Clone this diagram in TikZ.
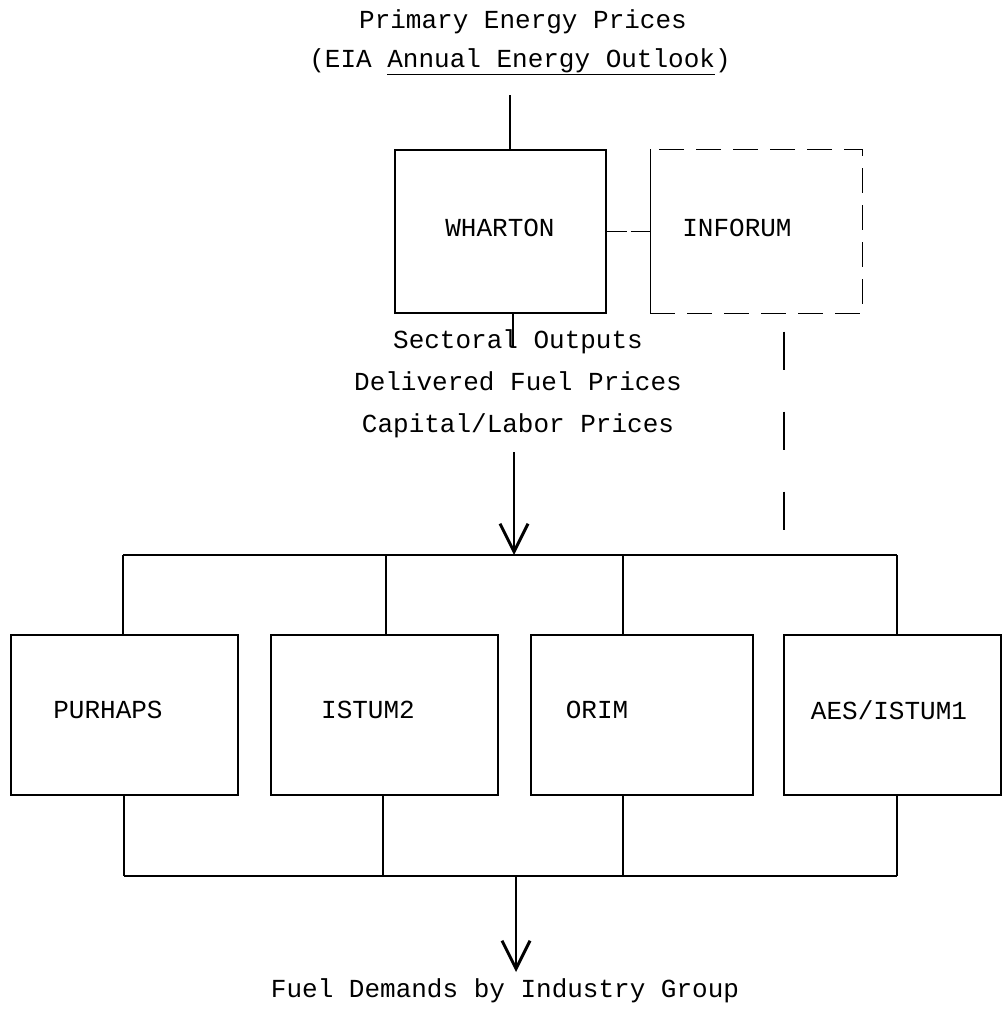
\documentclass[tikz,border=0pt]{standalone}
\usepackage{fontspec}
\newfontfamily\typer{Liberation Mono}
\usetikzlibrary{positioning,arrows.meta}

\begin{document}
\begin{tikzpicture}[x=1pt, y=-1pt, line width=1.2pt,
  font=\typer\fontsize{26}{42}\selectfont,
  txt/.style={inner sep=0pt, align=center},
  bigbox/.style={draw, minimum width=211pt, minimum height=163pt, inner sep=0pt},
  modbox/.style={draw, minimum width=227pt, minimum height=160pt, inner sep=0pt},
  infdash/.style={dash pattern=on 25pt off 12pt},
  vtip/.style={-{Straight Barb[length=28pt,width=28pt,line width=3pt]}}]
\useasboundingbox (0,0) rectangle (1002,1009);

% inputs on top
\node[txt] (prices) at (523,22) {Primary Energy Prices};
\node[txt] (eia) at (520,62) {(EIA \underline{Annual Energy Outlook})};

% macro models
\node[bigbox] (wharton) at (500.5,231.5) {};
\node[txt] at (500,228) {WHARTON};
\node[bigbox, draw=none] (inforum) at (756.5,231.5) {};
\draw[infdash] (inforum.south west) -- (inforum.south east) -- (inforum.north east) -- (inforum.north west);
\draw (inforum.north west) -- (inforum.south west);
\node[txt] at (737,228) {INFORUM};
\draw[dash pattern=on 20pt off 4pt] (wharton.east) -- (inforum.west);

\coordinate (topin) at (510,95);
\draw (topin) -- (topin |- wharton.north);

% outputs passed down
\node[txt] (outs) at (518,384) {Sectoral Outputs\\Delivered Fuel Prices\\Capital/Labor Prices};
\coordinate (outtop) at (513,347);
\draw (wharton.south -| outtop) -- (outtop);
\coordinate (busin) at (514,555);
\coordinate (arrin) at (514,452);
\draw[vtip] (arrin) -- (busin);

\coordinate (infend) at (784,530);
\draw[dash pattern=on 38pt off 42pt, dash phase=62pt] (inforum.south -| infend) -- (infend);

% industry models
\node[modbox] (purhaps) at (124.5,715) {};
\node[modbox] (istum) at (384.5,715) {};
\node[modbox, minimum width=222pt] (orim) at (642,715) {};
\node[modbox, minimum width=217pt] (aes) at (892.5,715) {};
\node[txt] at (108,710) {PURHAPS};
\node[txt] at (368,710) {ISTUM2};
\node[txt] at (597,710) {ORIM};
\node[txt] at (889,710) {AES/ISTUM1};

% distribution bus
\coordinate (bl) at (123,555);
\coordinate (br) at (897,555);
\draw (bl) -- (br);
\foreach \n/\x in {purhaps/123, istum/386, orim/623, aes/897}{
  \coordinate (d\n) at (\x,555);
  \draw (d\n) -- (d\n |- \n.north);
}

% collection bus
\coordinate (cl) at (124,876);
\coordinate (cr) at (897,876);
\draw (cl) -- (cr);
\foreach \n/\x in {purhaps/124, istum/383, orim/623, aes/897}{
  \coordinate (c\n) at (\x,876);
  \draw (c\n |- \n.south) -- (c\n);
}

\node[txt] (demand) at (505,991) {Fuel Demands by Industry Group};
\coordinate (busout) at (516,876);
\coordinate (outend) at (516,972);
\draw[vtip] (busout) -- (outend);
\end{tikzpicture}
\end{document}
